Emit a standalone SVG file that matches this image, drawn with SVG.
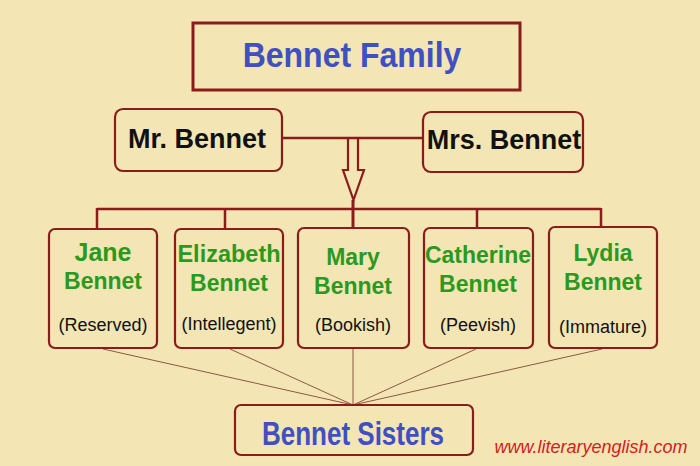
<svg xmlns="http://www.w3.org/2000/svg" width="700" height="466" viewBox="0 0 700 466">
<style>
.bg{fill:#f3e5b4}
.box{fill:#f3e5b4;stroke:#8a1c1c;stroke-width:2.2}
.conn{stroke:#8a1c1c;fill:none}
.t{font-family:"Liberation Sans",Arial,sans-serif;font-weight:bold;text-anchor:middle}
.blue{fill:#4050c0}
.black{fill:#111}
.green{fill:#2a9a1e}
.sub{font-family:"Liberation Sans",Arial,sans-serif;font-size:18px;fill:#111;text-anchor:middle}
</style>
<rect class="bg" x="0" y="0" width="700" height="466"/>
<g id="connectors">
<line class="conn" x1="282" y1="138" x2="423" y2="138" stroke-width="2.5"/>
<path class="conn" d="M348,138 V170 H343 L353.5,200 L364,170 H358 V138" stroke-width="2.2" fill="#f3e5b4"/>
<line class="conn" x1="97" y1="209" x2="601" y2="209" stroke-width="2.5"/>
<line class="conn" x1="97" y1="208" x2="97" y2="229" stroke-width="2.5"/>
<line class="conn" x1="225" y1="209" x2="225" y2="229" stroke-width="2.5"/>
<line class="conn" x1="353" y1="200" x2="353" y2="229" stroke-width="3"/>
<line class="conn" x1="477" y1="209" x2="477" y2="229" stroke-width="2.5"/>
<line class="conn" x1="601" y1="208" x2="601" y2="229" stroke-width="2.5"/>
<g stroke="#8a5a40" stroke-width="1">
<line x1="103" y1="349" x2="353" y2="405"/>
<line x1="230" y1="349" x2="353" y2="405"/>
<line x1="353" y1="349" x2="353" y2="405"/>
<line x1="476" y1="349" x2="353" y2="405"/>
<line x1="602" y1="349" x2="353" y2="405"/>
</g>
</g>
<g id="family">
<rect x="193" y="23" width="327" height="67" fill="#f3e5b4" stroke="#8a1c1c" stroke-width="3"/>
<text class="t blue" transform="translate(352,67) scale(1,1.08)" font-size="32">Bennet Family</text>
</g>
<g id="mr">
<rect class="box" x="115" y="109" width="167" height="62" rx="8"/>
<text class="t black" x="197" y="148" font-size="27">Mr. Bennet</text>
</g>
<g id="mrs">
<rect class="box" x="423" y="112" width="160" height="60" rx="8"/>
<text class="t black" x="504" y="149" font-size="27">Mrs. Bennet</text>
</g>
<g id="jane">
<rect class="box" x="49" y="229" width="108" height="119" rx="6"/>
<text class="t green" transform="translate(103,261) scale(1,1.05)" font-size="25">Jane</text>
<text class="t green" transform="translate(103,289) scale(1,1.05)" font-size="23">Bennet</text>
<text class="sub" x="103" y="331">(Reserved)</text>
</g>
<g id="elizabeth">
<rect class="box" x="175" y="229" width="108" height="119" rx="6"/>
<text class="t green" transform="translate(229,262) scale(1,1.05)" font-size="23.5">Elizabeth</text>
<text class="t green" transform="translate(229,291) scale(1,1.05)" font-size="23">Bennet</text>
<text class="sub" x="229" y="330">(Intellegent)</text>
</g>
<g id="mary">
<rect class="box" x="298" y="228" width="111" height="120" rx="6"/>
<text class="t green" transform="translate(353,265) scale(1,1.05)" font-size="23">Mary</text>
<text class="t green" transform="translate(353,294) scale(1,1.05)" font-size="23">Bennet</text>
<text class="sub" x="353" y="331">(Bookish)</text>
</g>
<g id="catherine">
<rect class="box" x="424" y="228" width="109" height="120" rx="6"/>
<text class="t green" transform="translate(478,263) scale(1,1.05)" font-size="23">Catherine</text>
<text class="t green" transform="translate(478,292) scale(1,1.05)" font-size="23">Bennet</text>
<text class="sub" x="478" y="331">(Peevish)</text>
</g>
<g id="lydia">
<rect class="box" x="549" y="227" width="108" height="121" rx="6"/>
<text class="t green" transform="translate(603,261) scale(1,1.05)" font-size="23">Lydia</text>
<text class="t green" transform="translate(603,290) scale(1,1.05)" font-size="23">Bennet</text>
<text class="sub" x="603" y="333">(Immature)</text>
</g>
<g id="sisters">
<rect class="box" x="235" y="405" width="238" height="50" rx="6"/>
<text class="t blue" transform="translate(353,445) scale(1,1.3)" font-size="26">Bennet Sisters</text>
</g>
<text x="591" y="453" font-family="Liberation Sans,Arial,sans-serif" font-style="italic" font-size="18" fill="#d42020" text-anchor="middle">www.literaryenglish.com</text>
</svg>
